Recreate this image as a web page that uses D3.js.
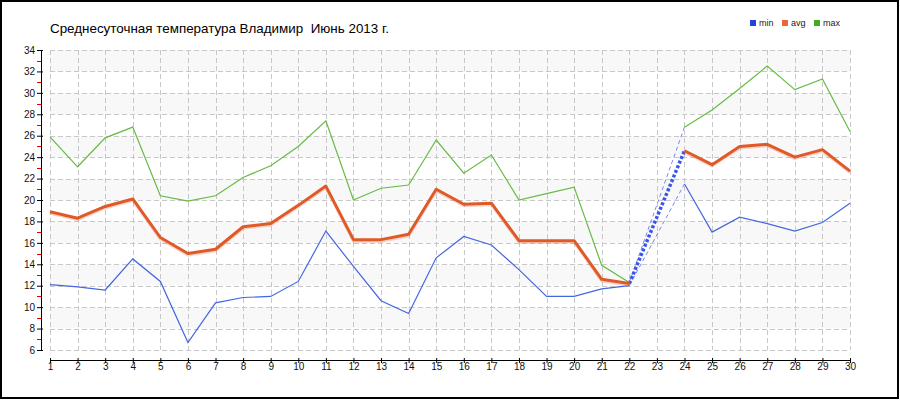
<!DOCTYPE html>
<html>
<head>
<meta charset="utf-8">
<script src="https://cdn.jsdelivr.net/npm/d3@7"></script>
<style>
  body { margin: 0; background: #fff; }
  text { font-family: "Liberation Sans", Arial, sans-serif; }
</style>
</head>
<body>
<svg id="chart"></svg>
<script>
const days = d3.range(1, 31);
// day 23 has no data
const minT = [12.1, 11.9, 11.6, 14.5, 12.4, 6.7, 10.4, 10.9, 11.0, 12.4, 17.1, 13.8, 10.6, 9.4, 14.6,
              16.6, 15.8, 13.5, 11.0, 11.0, 11.7, 12.0, null, 21.5, 17.0, 18.4, 17.8, 17.1, 17.9, 19.7];
const avgT = [18.9, 18.3, 19.4, 20.1, 16.5, 15.0, 15.4, 17.5, 17.8, 19.5, 21.3, 16.3, 16.3, 16.8, 21.0,
              19.6, 19.7, 16.2, 16.2, 16.2, 12.6, 12.2, null, 24.6, 23.3, 25.0, 25.2, 24.0, 24.7, 22.7];
const maxT = [25.9, 23.1, 25.8, 26.8, 20.4, 19.9, 20.4, 22.1, 23.2, 25.0, 27.4, 20.0, 21.1, 21.4, 25.6,
              22.5, 24.2, 20.0, 20.6, 21.2, 13.9, 12.3, null, 26.8, 28.4, 30.4, 32.5, 30.3, 31.3, 26.4];
const yTicks = d3.range(6, 35, 2);
const yMinor = d3.range(7, 34, 2);
const seriesNames = ["min", "avg", "max"];

const width = 900, height = 400;
const svg = d3.select("#chart").attr("width", width).attr("height", height);

const x = d3.scaleLinear().domain([1, 30]).range([50, 850]);
const y = d3.scaleLinear().domain([6, 34]).range([350, 50]);

// bands
svg.append("g").selectAll("rect")
    .data(yTicks.filter(function (d) { return d % 4 === 0 && d < 34; }))
    .enter().append("rect")
    .attr("x", x(1)).attr("width", x(30) - x(1))
    .attr("y", function (d) { return y(d + 2); })
    .attr("height", function (d) { return y(d) - y(d + 2); })
    .attr("fill", "#f8f8f8");

// grid
const grid = svg.append("g").attr("stroke", "#c8c8c8").attr("stroke-dasharray", "5,3").attr("shape-rendering", "crispEdges");
grid.selectAll("line.h").data(yTicks).enter().append("line")
    .attr("x1", x(1)).attr("x2", x(30))
    .attr("y1", function (d) { return Math.round(y(d)) + 0.5; })
    .attr("y2", function (d) { return Math.round(y(d)) + 0.5; });
grid.selectAll("line.v").data(days).enter().append("line")
    .attr("y1", y(34)).attr("y2", y(6))
    .attr("x1", function (d) { return Math.round(x(d)) + 0.5; })
    .attr("x2", function (d) { return Math.round(x(d)) + 0.5; });

// y axis
const yAxis = svg.append("g").attr("transform", "translate(41,0)")
    .call(d3.axisLeft(y).tickValues(yTicks).tickSize(4).tickSizeOuter(0).tickPadding(2));
yAxis.select(".domain").attr("stroke", "#000");
yAxis.selectAll(".tick line").attr("x2", 2).attr("x1", -4);
yAxis.selectAll("text").attr("font-size", 10).attr("font-family", "'DejaVu Sans Condensed', 'Liberation Sans', sans-serif").attr("fill", "#111");
svg.append("g").selectAll("line").data(yMinor).enter().append("line")
    .attr("x1", 37).attr("x2", 41)
    .attr("y1", function (d) { return Math.round(y(d)) + 0.5; })
    .attr("y2", function (d) { return Math.round(y(d)) + 0.5; })
    .attr("stroke", "#e00000");

// x axis
const xAxis = svg.append("g").attr("transform", "translate(0,360)")
    .call(d3.axisBottom(x).tickValues(days).tickFormat(d3.format("d")).tickSize(3).tickSizeOuter(0).tickPadding(0));
xAxis.select(".domain").attr("stroke", "#000");
xAxis.selectAll(".tick line").attr("y1", -2).attr("y2", 3);
xAxis.selectAll("text").attr("font-size", 10).attr("font-family", "'DejaVu Sans Condensed', 'Liberation Sans', sans-serif").attr("fill", "#111");

const line = d3.line()
    .defined(function (d) { return d[1] != null; })
    .x(function (d) { return x(d[0]); })
    .y(function (d) { return y(d[1]); });

function pairs(vals) {
    return days.map(function (d, i) { return [d, vals[i]]; });
}

// gap connectors (day 22 -> 24)
function gapLine(vals) {
    return [[22, vals[21]], [24, vals[23]]];
}
svg.append("path").datum(gapLine(maxT)).attr("d", line)
    .attr("fill", "none").attr("stroke", "#7788ee").attr("stroke-width", 1).attr("stroke-dasharray", "4,3");
svg.append("path").datum(gapLine(minT)).attr("d", line)
    .attr("fill", "none").attr("stroke", "#7788ee").attr("stroke-width", 1).attr("stroke-dasharray", "4,3");
svg.append("path").datum(gapLine(avgT)).attr("d", line)
    .attr("fill", "none").attr("stroke", "#3a55ee").attr("stroke-width", 3.5).attr("stroke-dasharray", "3,2");

// series
svg.append("path").datum(pairs(maxT)).attr("d", line)
    .attr("fill", "none").attr("stroke", "#66bb44").attr("stroke-width", 1.2);
svg.append("path").datum(pairs(minT)).attr("d", line)
    .attr("fill", "none").attr("stroke", "#4466e0").attr("stroke-width", 1.2);
svg.append("path").datum(pairs(avgT)).attr("d", line)
    .attr("transform", "translate(0,1.5)")
    .attr("fill", "none").attr("stroke", "rgba(235,120,90,0.3)").attr("stroke-width", 3);
svg.append("path").datum(pairs(avgT)).attr("d", line)
    .attr("fill", "none").attr("stroke", "#e05a28").attr("stroke-width", 3).attr("stroke-linejoin", "round");

// title
svg.append("text").attr("x", 50).attr("y", 33).attr("font-size", 13.4).attr("fill", "#000")
    .style("white-space", "pre")
    .text("Среднесуточная температура Владимир  Июнь 2013 г.");

// legend
const legendColors = ["#2244dd", "#ee6633", "#44aa22"];
const legendX = [750, 782, 814];
const legend = svg.append("g").selectAll("g").data(seriesNames).enter().append("g")
    .attr("transform", function (d, i) { return "translate(" + legendX[i] + ",20)"; });
legend.append("rect").attr("width", 6).attr("height", 6)
    .attr("fill", function (d, i) { return legendColors[i]; });
legend.append("text").attr("x", 9).attr("y", 6).attr("font-size", 9)
    .attr("font-family", "'Open Sans', sans-serif").attr("fill", "#222")
    .text(function (d) { return d; });

// border
svg.append("rect").attr("x", 1).attr("y", 1).attr("width", 897).attr("height", 397)
    .attr("fill", "none").attr("stroke", "#000").attr("stroke-width", 2);
</script>
</body>
</html>
